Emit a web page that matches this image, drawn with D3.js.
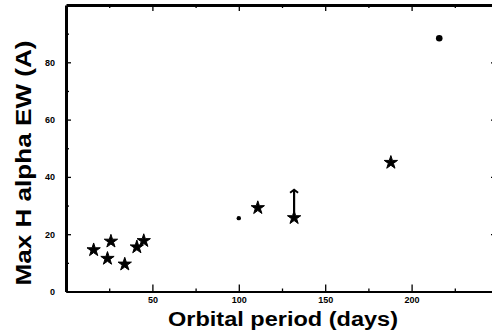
<!DOCTYPE html>
<html>
<head>
<meta charset="utf-8">
<script src="https://cdn.jsdelivr.net/npm/d3@7"></script>
<style>
  body { margin: 0; background: #fff; }
  svg { display: block; font-family: "Liberation Sans", Arial, sans-serif; }
  .tick text { font-weight: bold; font-size: 9px; fill: #000; }
</style>
</head>
<body>
<svg width="492" height="335"></svg>
<script>
// star points (orbital period, max H alpha EW)
var starPeriod = [16, 24, 26, 34, 41, 45, 111, 132, 188];
var starEw     = [14.5, 11.5, 17.5, 9.5, 15.5, 17.7, 29.2, 25.7, 45];

// dot points
var smallDotPeriod = [100];
var smallDotEw     = [25.6];
var bigDotPeriod   = [216];
var bigDotEw       = [88.4];

// the one with the upward bar
var barPeriod = [132];
var barLow    = [25.7];
var barHigh   = [35.5];

var xMajor = [50, 100, 150, 200];
var xMinor = [25, 75, 125, 175, 225];
var yMajor = [0, 20, 40, 60, 80];
var yMinor = [10, 30, 50, 70, 90];

var svg = d3.select("svg");

var x = d3.scaleLinear().domain([0, 250]).range([66, 498]);
var y = d3.scaleLinear().domain([0, 100]).range([291.5, 5]);

// ~~~~ axes ~~~~
function styleAxis(g, w) {
  g.select(".domain").attr("stroke", "#000").attr("stroke-width", w);
  g.selectAll(".tick line").attr("stroke", "#000").attr("stroke-width", 1.3);
}

svg.append("g")
  .attr("transform", "translate(0," + y(0) + ")")
  .call(d3.axisBottom(x).tickValues(xMajor).tickSizeInner(-7).tickSizeOuter(0).tickPadding(5))
  .call(styleAxis, 2.2);
svg.append("g")
  .attr("transform", "translate(0," + y(0) + ")")
  .call(d3.axisBottom(x).tickValues(xMinor).tickSize(-3).tickFormat(""))
  .call(g => g.select(".domain").remove())
  .call(styleAxis, 0);

svg.append("g")
  .attr("transform", "translate(0," + y(100) + ")")
  .call(d3.axisTop(x).tickValues(xMajor).tickSizeInner(-6).tickSizeOuter(0).tickFormat(""))
  .call(styleAxis, 3);
svg.append("g")
  .attr("transform", "translate(0," + y(100) + ")")
  .call(d3.axisTop(x).tickValues(xMinor).tickSize(-3).tickFormat(""))
  .call(g => g.select(".domain").remove())
  .call(styleAxis, 0);

svg.append("g")
  .attr("transform", "translate(" + x(0) + ",0)")
  .call(d3.axisLeft(y).tickValues(yMajor).tickSizeInner(-5).tickSizeOuter(0).tickPadding(11))
  .call(styleAxis, 3);
svg.append("g")
  .attr("transform", "translate(" + x(0) + ",0)")
  .call(d3.axisLeft(y).tickValues(yMinor).tickSize(-3).tickFormat(""))
  .call(g => g.select(".domain").remove())
  .call(styleAxis, 0);

svg.append("g")
  .attr("transform", "translate(" + x(250) + ",0)")
  .call(d3.axisRight(y).tickValues(yMajor.slice(1)).tickSizeInner(-7).tickSizeOuter(0).tickFormat(""))
  .call(styleAxis, 3);

// ~~~~ titles ~~~~
svg.append("text")
  .attr("x", 283).attr("y", 326)
  .attr("text-anchor", "middle")
  .attr("textLength", 230).attr("lengthAdjust", "spacingAndGlyphs")
  .style("font-weight", "bold").style("font-size", "20px")
  .text("Orbital period (days)");

svg.append("text")
  .attr("transform", "translate(31,163) rotate(-90)")
  .attr("text-anchor", "middle")
  .attr("textLength", 245).attr("lengthAdjust", "spacingAndGlyphs")
  .style("font-weight", "bold").style("font-size", "22px")
  .text("Max H alpha EW (A)");

// ~~~~ marks ~~~~
var star = d3.symbol().type(d3.symbolStar).size(55);

svg.selectAll("path.star")
  .data(starPeriod)
  .enter()
  .append("path")
  .attr("class", "star")
  .attr("d", star)
  .attr("transform", (d, i) => "translate(" + x(d) + "," + y(starEw[i]) + ")")
  .attr("fill", "#000")
  .attr("stroke", "#000")
  .attr("stroke-width", 1)
  .attr("stroke-linejoin", "round");

svg.selectAll("circle.small")
  .data(smallDotPeriod)
  .enter()
  .append("circle")
  .attr("cx", d => x(d))
  .attr("cy", (d, i) => y(smallDotEw[i]))
  .attr("r", 2.2);

svg.selectAll("circle.big")
  .data(bigDotPeriod)
  .enter()
  .append("circle")
  .attr("cx", d => x(d))
  .attr("cy", (d, i) => y(bigDotEw[i]))
  .attr("r", 3.3);

var bars = svg.selectAll("g.bar")
  .data(barPeriod)
  .enter()
  .append("g");
bars.append("line")
  .attr("x1", d => x(d)).attr("x2", d => x(d))
  .attr("y1", (d, i) => y(barLow[i]))
  .attr("y2", (d, i) => y(barHigh[i]) + 1)
  .attr("stroke", "#000").attr("stroke-width", 2.2);
bars.append("path")
  .attr("d", (d, i) => {
    var cx = x(d), cy = y(barHigh[i]);
    return "M" + (cx - 4) + "," + (cy + 3) + "L" + cx + "," + cy + "L" + (cx + 4) + "," + (cy + 3);
  })
  .attr("fill", "none").attr("stroke", "#000").attr("stroke-width", 2);
</script>
</body>
</html>
